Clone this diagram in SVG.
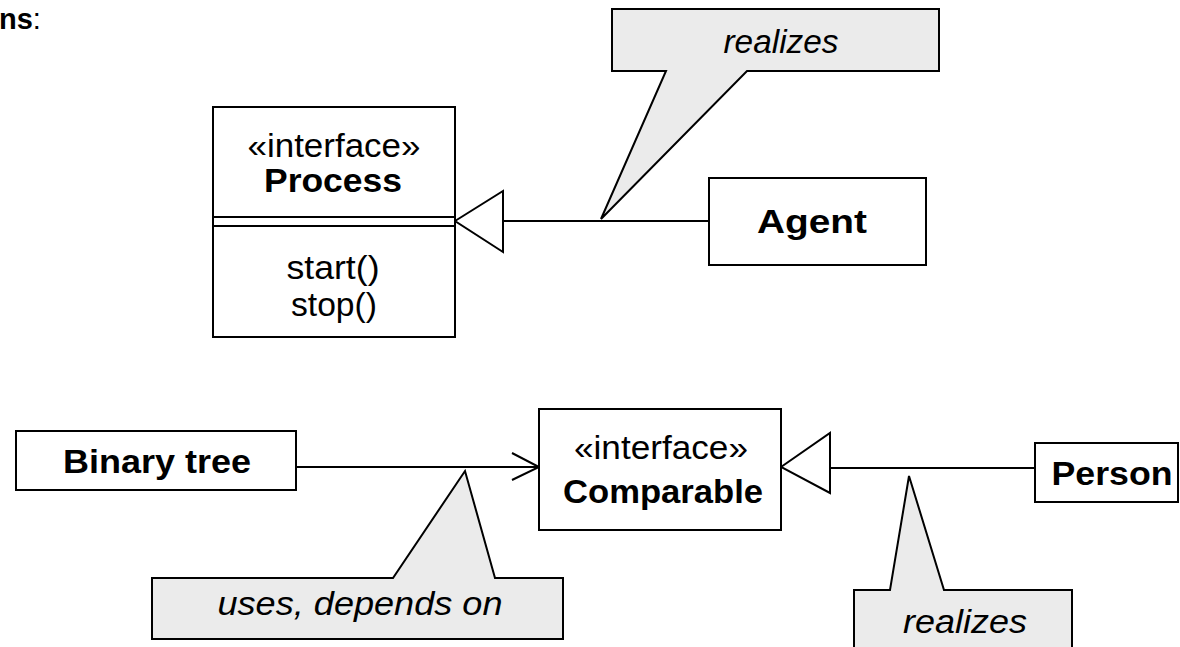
<svg xmlns="http://www.w3.org/2000/svg" width="1180" height="647" viewBox="0 0 1180 647">
  <style>
    .box { fill: #ffffff; stroke: #000000; stroke-width: 2; }
    .note { fill: #ebebeb; stroke: #000000; stroke-width: 2; stroke-linejoin: miter; }
    .line { fill: none; stroke: #000000; stroke-width: 2; }
    .head { fill: #ffffff; stroke: #000000; stroke-width: 2; stroke-linejoin: miter; }
    text { font-family: "Liberation Sans", Arial, sans-serif; fill: #000000; }
    .t { font-size: 34px; text-anchor: middle; }
    .b { font-weight: bold; }
    .i { font-style: italic; }
  </style>

  <!-- heading fragment -->
  <text x="-1" y="29" style="font-size:29px"><tspan font-weight="bold">ns</tspan>:</text>

  <!-- connectors -->
  <g id="connectors">
    <!-- Agent realizes Process -->
    <line class="line" x1="503" y1="221" x2="709" y2="221"/>
    <polygon class="head" points="455,221 503,191 503,252"/>
    <!-- Binary tree depends on Comparable -->
    <line class="line" x1="296" y1="467" x2="538" y2="467"/>
    <polyline class="line" points="512,453 539,467 512,480"/>
    <!-- Person realizes Comparable -->
    <line class="line" x1="830" y1="468" x2="1035" y2="468"/>
    <polygon class="head" points="781,467 830,433 830,493"/>
  </g>

  <!-- interface Process -->
  <g id="process">
    <rect class="box" x="213" y="107" width="242" height="230"/>
    <line class="line" x1="213" y1="217" x2="455" y2="217"/>
    <line class="line" x1="213" y1="226" x2="455" y2="226"/>
    <text class="t" x="334" y="157" textLength="173" lengthAdjust="spacingAndGlyphs">«interface»</text>
    <text class="t b" x="333" y="192" textLength="138" lengthAdjust="spacingAndGlyphs">Process</text>
    <text class="t" x="333" y="279" textLength="93" lengthAdjust="spacingAndGlyphs">start()</text>
    <text class="t" x="334" y="316" textLength="86" lengthAdjust="spacingAndGlyphs">stop()</text>
  </g>

  <!-- class Agent -->
  <g id="agent">
    <rect class="box" x="709" y="178" width="217" height="87"/>
    <text class="t b" x="812" y="233" textLength="110" lengthAdjust="spacingAndGlyphs">Agent</text>
  </g>

  <!-- note on the Agent realization -->
  <g id="note-realizes-top">
    <path class="note" d="M612,9 H939 V71 H747 L601,219 L666,71 H612 Z"/>
    <text class="t i" x="781" y="53" textLength="115" lengthAdjust="spacingAndGlyphs">realizes</text>
  </g>

  <!-- class Binary tree -->
  <g id="binary-tree">
    <rect class="box" x="16" y="431" width="280" height="59"/>
    <text class="t b" x="157" y="473" textLength="188" lengthAdjust="spacingAndGlyphs">Binary tree</text>
  </g>

  <!-- interface Comparable -->
  <g id="comparable">
    <rect class="box" x="539" y="409" width="242" height="121"/>
    <text class="t" x="661" y="459" textLength="174" lengthAdjust="spacingAndGlyphs">«interface»</text>
    <text class="t b" x="663" y="503" textLength="200" lengthAdjust="spacingAndGlyphs">Comparable</text>
  </g>

  <!-- class Person -->
  <g id="person">
    <rect class="box" x="1035" y="443" width="143" height="59"/>
    <text class="t b" x="1112" y="485" textLength="121" lengthAdjust="spacingAndGlyphs">Person</text>
  </g>

  <!-- note on the dependency -->
  <g id="note-uses">
    <path class="note" d="M152,578 H393 L465,471 L495,578 H563 V639 H152 Z"/>
    <text class="t i" x="360" y="615" textLength="285" lengthAdjust="spacingAndGlyphs">uses, depends on</text>
  </g>

  <!-- note on the Person realization -->
  <g id="note-realizes-bottom">
    <path class="note" d="M854,590 H890 L909,476 L944,590 H1072 V660 H854 Z"/>
    <text class="t i" x="965" y="633" textLength="124" lengthAdjust="spacingAndGlyphs">realizes</text>
  </g>
</svg>
